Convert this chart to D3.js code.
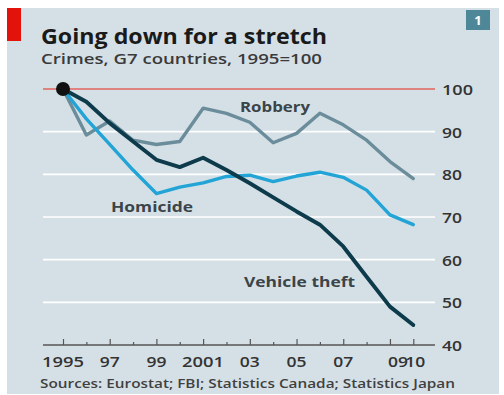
<!DOCTYPE html>
<html>
<head>
<meta charset="utf-8">
<script src="https://cdn.jsdelivr.net/npm/d3@7"></script>
<style>
  html, body { margin: 0; padding: 0; background: #ffffff; }
  svg { display: block; }
  text { font-family: "Open Sans", "DejaVu Sans", sans-serif; }
</style>
</head>
<body>
<svg id="chart" width="504" height="395"></svg>
<script>
const years = d3.range(1995, 2011);
const homicide = [100, 93, 87, 81, 75.5, 77, 78, 79.5, 79.8, 78.3, 79.6, 80.5, 79.3, 76.3, 70.5, 68.2];
const robbery  = [100, 89.2, 92.5, 88, 87, 87.7, 95.5, 94.3, 92.2, 87.4, 89.6, 94.3, 91.6, 88, 83, 79];
const vehicle  = [100, 97, 92, 87.7, 83.4, 81.7, 83.9, 81, 77.9, 74.6, 71.3, 68.2, 63.1, 56, 49, 44.7];
const yTicks = [40, 50, 60, 70, 80, 90, 100];
const xTickYears = [1995, 1997, 1999, 2001, 2003, 2005, 2007, 2009, 2010];
const xTickLabels = ["1995", "97", "99", "2001", "03", "05", "07", "09", "10"];
const seriesNames = ["Robbery", "Homicide", "Vehicle theft"];

const svg = d3.select("#chart");

// panel
svg.append("rect").attr("x", 7).attr("y", 8).attr("width", 492).attr("height", 386).attr("fill", "#d5e0e6");
svg.append("rect").attr("x", 7).attr("y", 8).attr("width", 14).attr("height", 33).attr("fill", "#e3120b");

// title
svg.append("text").attr("x", 41).attr("y", 43.5).text("Going down for a stretch")
  .attr("font-size", 21).attr("font-weight", 700).attr("fill", "#1a1a1a")
  .attr("textLength", 286).attr("lengthAdjust", "spacingAndGlyphs");
svg.append("text").attr("x", 41).attr("y", 64).text("Crimes, G7 countries, 1995=100")
  .attr("font-size", 14).attr("font-weight", 600).attr("fill", "#3a3a3a")
  .attr("textLength", 281).attr("lengthAdjust", "spacingAndGlyphs");

// chart number box
svg.append("rect").attr("x", 466).attr("y", 10).attr("width", 24).attr("height", 20).attr("fill", "#4e8797");
svg.append("text").attr("x", 478).attr("y", 25).attr("text-anchor", "middle").text("1")
  .attr("font-size", 13).attr("font-weight", 700).attr("fill", "#ffffff");

const x = d3.scaleLinear().domain([1995, 2010]).range([63, 413.3]);
const y = d3.scaleLinear().domain([40, 100]).range([345, 89]);
const gx0 = 43, gx1 = 435;

// gridlines
svg.append("g").selectAll("line").data(yTicks.filter(v => v > 40 && v < 100)).join("line")
  .attr("x1", gx0).attr("x2", gx1).attr("y1", d => y(d)).attr("y2", d => y(d))
  .attr("stroke", "#ffffff").attr("stroke-width", 1.6);
svg.append("line").attr("x1", gx0).attr("x2", gx1).attr("y1", y(100)).attr("y2", y(100))
  .attr("stroke", "#e0645c").attr("stroke-width", 1.6);

// y labels (right)
const yAxis = d3.axisRight(y).tickValues(yTicks).tickSize(0).tickPadding(0);
const yg = svg.append("g").attr("transform", `translate(${gx1 + 7},0)`).call(yAxis);
yg.select(".domain").remove();
yg.selectAll("text").attr("font-size", 15).attr("fill", "#333")
  .attr("font-family", "\"Open Sans\", sans-serif").attr("font-weight", 600).attr("dy", "0.36em")
  .attr("textLength", d => d >= 100 ? 31 : 20).attr("lengthAdjust", "spacingAndGlyphs");

// x axis
const xAxis = d3.axisBottom(x).tickValues(years).tickSize(0).tickFormat("");
const xg = svg.append("g").attr("transform", `translate(0,${y(40)})`).call(xAxis);
xg.select(".domain").remove();
svg.append("line").attr("x1", gx0).attr("x2", gx1).attr("y1", y(40)).attr("y2", y(40))
  .attr("stroke", "#555").attr("stroke-width", 1.4);
xg.selectAll(".tick line").attr("y1", 0)
  .attr("y2", d => (d % 2 === 1 || d === 2010) ? -6 : -3)
  .attr("stroke", "#555").attr("stroke-width", 1.2);
svg.append("g").selectAll("text").data(xTickYears).join("text")
  .attr("x", d => d === 2009 ? x(d) - 2 : (d === 2010 ? x(d) + 12 : x(d)))
  .attr("y", 366.5)
  .attr("text-anchor", d => d === 2009 ? "start" : (d === 2010 ? "end" : "middle"))
  .attr("font-size", 15).attr("font-weight", 600).attr("fill", "#333")
  .attr("textLength", (d, i) => xTickLabels[i].length === 4 ? 42 : 20)
  .attr("lengthAdjust", "spacingAndGlyphs")
  .text((d, i) => xTickLabels[i]);

// lines
const line = d3.line().x((d, i) => x(years[i])).y(d => y(d));
const series = [
  { name: seriesNames[0], values: robbery, color: "#6b8d9b", w: 3.4 },
  { name: seriesNames[1], values: homicide, color: "#22a4d6", w: 3.4 },
  { name: seriesNames[2], values: vehicle, color: "#0d3b4b", w: 3.9 }
];
svg.append("g").selectAll("path").data(series).join("path")
  .attr("d", d => line(d.values)).attr("fill", "none")
  .attr("stroke", d => d.color).attr("stroke-width", d => d.w)
  .attr("stroke-linejoin", "round").attr("stroke-linecap", "round");

// start dot
svg.append("circle").attr("cx", x(1995)).attr("cy", y(100)).attr("r", 7).attr("fill", "#111");

// series labels
const labelPos = [[240, 112], [111, 211.5], [244, 286.5]];
const labelLen = [70, 82, 111];
svg.append("g").selectAll("text").data(seriesNames).join("text")
  .attr("x", (d, i) => labelPos[i][0]).attr("y", (d, i) => labelPos[i][1])
  .attr("font-size", 15).attr("font-weight", 700).attr("fill", "#3b4448")
  .attr("textLength", (d, i) => labelLen[i]).attr("lengthAdjust", "spacingAndGlyphs")
  .text(d => d);

// source
svg.append("text").attr("x", 40).attr("y", 388)
  .text("Sources: Eurostat; FBI; Statistics Canada; Statistics Japan")
  .attr("font-size", 12).attr("font-weight", 600).attr("fill", "#404040")
  .attr("textLength", 415).attr("lengthAdjust", "spacingAndGlyphs");
</script>
</body>
</html>
